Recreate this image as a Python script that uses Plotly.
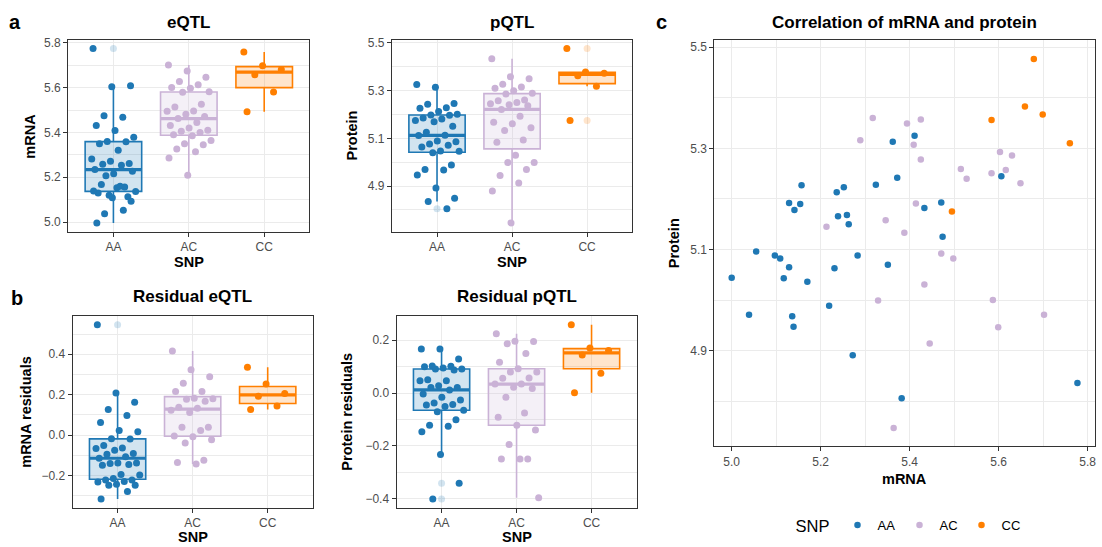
import numpy as np
import plotly.graph_objects as go

W, H = 1102, 547
FONT = "Liberation Sans"

GROUPS = ["AA", "AC", "CC"]
COLORS = {"AA": "#1F78B4", "AC": "#CAB2D6", "CC": "#FF7F00"}

# ---- eQTL: mRNA level by genotype ----
eqtl_aa = [5.775, 5.604, 5.609, 5.474, 5.468, 5.431, 5.409, 5.379, 5.360, 5.358,
           5.350, 5.321, 5.281, 5.271, 5.261, 5.258, 5.253, 5.234, 5.216, 5.227,
           5.207, 5.156, 5.130, 5.153, 5.136, 5.120, 5.113, 5.167, 5.160, 5.138,
           5.108, 5.093, 5.037, 5.052, 4.996]
eqtl_ac = [5.701, 5.674, 5.647, 5.627, 5.613, 5.601, 5.597, 5.582, 5.579, 5.526,
           5.514, 5.496, 5.495, 5.481, 5.471, 5.462, 5.444, 5.431, 5.420, 5.410,
           5.405, 5.400, 5.390, 5.385, 5.364, 5.350, 5.345, 5.326, 5.314, 5.286,
           5.209]
eqtl_cc = [5.759, 5.698, 5.681, 5.658, 5.581, 5.492]

# ---- pQTL: protein level by genotype ----
pqtl_aa = [5.325, 5.314, 5.246, 5.243, 5.228, 5.226, 5.212, 5.201, 5.198, 5.196,
           5.185, 5.181, 5.175, 5.169, 5.150, 5.125, 5.113, 5.112, 5.089, 5.086,
           5.076, 5.071, 5.064, 5.047, 5.046, 5.040, 4.988, 4.969, 4.967, 4.946,
           4.892, 4.849, 4.836, 4.805]
pqtl_ac = [5.433, 5.358, 5.349, 5.326, 5.315, 5.310, 5.299, 5.289, 5.285, 5.260,
           5.257, 5.250, 5.245, 5.240, 5.236, 5.221, 5.192, 5.167, 5.161, 5.144,
           5.133, 5.093, 5.083, 5.029, 4.999, 4.999, 4.969, 4.944, 4.913, 4.879,
           4.746]
pqtl_cc = [5.476, 5.378, 5.372, 5.362, 5.318, 5.175]

# ---- residual eQTL ----
resid_mrna_aa = [0.546, 0.208, 0.162, 0.126, 0.097, 0.062, 0.023, 0.016, -0.018, -0.020,
                 -0.052, -0.064, -0.067, -0.075, -0.092, -0.095, -0.108, -0.115, -0.138, -0.138,
                 -0.141, -0.146, -0.149, -0.195, -0.198, -0.215, -0.223, -0.223, -0.230, -0.233,
                 -0.243, -0.248, -0.249, -0.280, -0.316]
resid_mrna_ac = [0.416, 0.323, 0.289, 0.256, 0.216, 0.215, 0.182, 0.180, 0.177, 0.167,
                 0.138, 0.133, 0.123, 0.111, 0.039, 0.038, 0.023, -0.005, -0.008, -0.023,
                 -0.039, -0.125, -0.136, -0.143]
resid_mrna_cc = [0.336, 0.252, 0.205, 0.192, 0.144, 0.126]

# ---- residual pQTL ----
resid_prot_aa = [0.167, 0.167, 0.129, 0.103, 0.102, 0.100, 0.095, 0.091, 0.091, 0.087,
                 0.050, 0.047, 0.047, 0.028, 0.021, 0.021, 0.012, -0.004, -0.016, -0.026,
                 -0.038, -0.043, -0.045, -0.051, -0.065, -0.071, -0.101, -0.122, -0.126, -0.147,
                 -0.233, -0.342, -0.401]
resid_prot_ac = [0.225, 0.196, 0.195, 0.187, 0.150, 0.117, 0.092, 0.080, 0.080, 0.057,
                 0.056, 0.034, 0.034, 0.022, 0.017, -0.016, -0.076, -0.092, -0.122, -0.140,
                 -0.195, -0.250, -0.250, -0.250, -0.397]
resid_prot_cc = [0.259, 0.171, 0.161, 0.144, 0.075, 0.001]

# ---- mRNA vs protein, per sample ----
corr_mrna_aa = [5.411, 5.362, 5.372, 5.324, 5.157, 5.252, 5.236, 5.129, 5.154, 5.141,
                5.471, 5.433, 5.239, 5.259, 5.263, 5.474, 5.055, 5.097, 5.109, 5.283,
                5.351, 5.231, 5.129, 5.000, 5.117, 5.606, 5.170, 5.219, 5.039, 5.136,
                5.139, 5.272, 5.382, 5.777]
corr_prot_aa = [5.325, 5.313, 5.242, 5.228, 5.227, 5.223, 5.213, 5.192, 5.190, 5.178,
                5.193, 5.182, 5.166, 5.168, 5.150, 5.125, 5.096, 5.088, 5.082, 5.088,
                5.070, 5.063, 5.065, 5.044, 5.043, 5.245, 5.036, 4.989, 4.971, 4.968,
                4.947, 4.891, 4.806, 4.836]
corr_mrna_ac = [5.317, 5.394, 5.425, 5.289, 5.409, 5.425, 5.603, 5.630, 5.515, 5.616,
                5.528, 5.584, 5.649, 5.414, 5.213, 5.346, 5.388, 5.471, 5.498, 5.433,
                5.329, 5.587, 5.702, 5.599, 5.445, 5.364]
corr_prot_ac = [5.360, 5.349, 5.357, 5.316, 5.307, 5.278, 5.293, 5.286, 5.259, 5.257,
                5.240, 5.251, 5.231, 5.191, 5.145, 5.158, 5.133, 5.092, 5.082, 5.031,
                4.999, 5.000, 4.971, 4.946, 4.914, 4.747]
corr_mrna_cc = [5.679, 5.659, 5.699, 5.584, 5.760, 5.495]
corr_prot_cc = [5.477, 5.383, 5.367, 5.356, 5.310, 5.175]


def rgba(hex_color, alpha):
    h = hex_color.lstrip("#")
    r, g, b = int(h[0:2], 16), int(h[2:4], 16), int(h[4:6], 16)
    return f"rgba({r},{g},{b},{alpha})"


def px_x(p):
    return p / W


def px_y(p):
    return 1 - p / H


def expanded(values, frac=0.05):
    v = np.concatenate([np.asarray(x, float) for x in values])
    lo, hi = v.min(), v.max()
    pad = (hi - lo) * frac
    return [lo - pad, hi + pad]


def box_stats(values):
    v = np.sort(np.asarray(values, float))
    q1, med, q3 = np.percentile(v, [25, 50, 75])
    iqr = q3 - q1
    lo_lim, hi_lim = q1 - 1.5 * iqr, q3 + 1.5 * iqr
    inside = v[(v >= lo_lim) & (v <= hi_lim)]
    outliers = v[(v < lo_lim) | (v > hi_lim)]
    return q1, med, q3, inside.min(), inside.max(), outliers


def spread(n, half_width=0.3):
    # evenly scattered horizontal offsets (low-discrepancy sequence) for the strip points
    frac = (np.arange(n) * (np.sqrt(2) - 1) + 0.05) % 1.0
    return (frac - 0.5) * 2 * half_width


def axis_base(**kw):
    base = dict(
        showline=True, linecolor="#333333", linewidth=1.1, mirror=True,
        ticks="outside", ticklen=4, tickwidth=1, tickcolor="#333333",
        showgrid=True, gridcolor="#EBEBEB", gridwidth=1.1, zeroline=False,
        tickfont=dict(family=FONT, size=12, color="#4D4D4D"),
    )
    base.update(kw)
    return base


def text(label, cx, cy, size, bold=True, angle=0):
    return dict(
        text=f"<b>{label}</b>" if bold else label,
        x=px_x(cx), y=px_y(cy), xref="paper", yref="paper",
        xanchor="center", yanchor="middle", showarrow=False, textangle=angle,
        font=dict(family=FONT, size=size, color="black"),
    )


BOX_W = 0.75

box_panels = [
    dict(data=[eqtl_aa, eqtl_ac, eqtl_cc], box=(68.3, 310.0, 36.0, 229.3),
         tick0=5.0, title="eQTL", ytitle="mRNA", ytitle_x=30, xtitle_y=260, title_y=18.5),
    dict(data=[pqtl_aa, pqtl_ac, pqtl_cc], box=(392.7, 633.3, 36.0, 229.3),
         tick0=4.9, title="pQTL", ytitle="Protein", ytitle_x=352.5, xtitle_y=260, title_y=18.5),
    dict(data=[resid_mrna_aa, resid_mrna_ac, resid_mrna_cc], box=(72.7, 313.3, 314.3, 507.3),
         tick0=0.0, title="Residual eQTL", ytitle="mRNA residuals", ytitle_x=26, xtitle_y=537, title_y=295),
    dict(data=[resid_prot_aa, resid_prot_ac, resid_prot_cc], box=(397.3, 637.7, 314.3, 507.3),
         tick0=0.0, title="Residual pQTL", ytitle="Protein residuals", ytitle_x=347.5, xtitle_y=537, title_y=295),
]

fig = go.Figure()
layout = dict(
    width=W, height=H, margin=dict(l=0, r=0, t=0, b=0),
    paper_bgcolor="white", plot_bgcolor="white",
    boxmode="overlay", showlegend=True,
    font=dict(family=FONT, color="black"),
)
shapes, annotations = [], []

for k, panel in enumerate(box_panels, start=1):
    suffix = "" if k == 1 else str(k)
    xa, ya = f"x{suffix}", f"y{suffix}"
    x0, x1, y0, y1 = panel["box"]
    layout[f"xaxis{suffix}"] = axis_base(
        domain=[px_x(x0), px_x(x1)], anchor=ya, type="linear",
        range=[-0.6, 2.6], tickvals=[0, 1, 2], ticktext=GROUPS,
    )
    layout[f"yaxis{suffix}"] = axis_base(
        domain=[px_y(y1), px_y(y0)], anchor=xa,
        range=expanded(panel["data"]), tick0=panel["tick0"], dtick=0.2, tickformat=".1f",
        minor=dict(dtick=0.1, showgrid=True, gridcolor="#EBEBEB", gridwidth=0.6, ticks=""),
    )

    for i, (grp, vals) in enumerate(zip(GROUPS, panel["data"])):
        col = COLORS[grp]
        q1, med, q3, lo, hi, outs = box_stats(vals)
        # box and whiskers
        fig.add_trace(go.Box(
            x=[i], q1=[q1], median=[med], q3=[q3], lowerfence=[lo], upperfence=[hi],
            orientation="v", boxpoints=False, width=BOX_W, whiskerwidth=0,
            line=dict(color=col, width=1.6), fillcolor=rgba(col, 0.2),
            xaxis=xa, yaxis=ya, showlegend=False, hoverinfo="skip",
        ))
        # thicker median bar
        shapes.append(dict(
            type="line", xref=xa, yref=ya, layer="between",
            x0=i - BOX_W / 2, x1=i + BOX_W / 2, y0=med, y1=med,
            line=dict(color=col, width=3.2),
        ))
        # outliers flagged by the box statistics
        if len(outs):
            fig.add_trace(go.Scatter(
                x=[i] * len(outs), y=outs, mode="markers",
                marker=dict(color=rgba(col, 0.2), size=7),
                xaxis=xa, yaxis=ya, showlegend=False, hoverinfo="skip",
            ))
        # every sample, spread horizontally around its genotype
        fig.add_trace(go.Scatter(
            x=i + spread(len(vals)), y=vals, mode="markers",
            marker=dict(color=col, size=7),
            xaxis=xa, yaxis=ya, showlegend=False, name=grp,
        ))

    cx = (x0 + x1) / 2
    annotations.append(text(panel["title"], cx, panel["title_y"], 17))
    annotations.append(text(panel["ytitle"], panel["ytitle_x"], (y0 + y1) / 2, 14.5, angle=-90))
    annotations.append(text("SNP", cx, panel["xtitle_y"], 14.5))

# ---- correlation scatter ----
sx0, sx1, sy0, sy1 = 715.7, 1096.7, 36.7, 445.7
corr_x = [corr_mrna_aa, corr_mrna_ac, corr_mrna_cc]
corr_y = [corr_prot_aa, corr_prot_ac, corr_prot_cc]
layout["xaxis5"] = axis_base(
    domain=[px_x(sx0), px_x(sx1)], anchor="y5",
    range=expanded(corr_x), tick0=5.0, dtick=0.2, tickformat=".1f",
    minor=dict(dtick=0.1, showgrid=True, gridcolor="#EBEBEB", gridwidth=0.6, ticks=""),
)
layout["yaxis5"] = axis_base(
    domain=[px_y(sy1), px_y(sy0)], anchor="x5",
    range=expanded(corr_y), tick0=4.9, dtick=0.2, tickformat=".1f",
    minor=dict(dtick=0.1, showgrid=True, gridcolor="#EBEBEB", gridwidth=0.6, ticks=""),
)
for grp, xs, ys in zip(GROUPS, corr_x, corr_y):
    fig.add_trace(go.Scatter(
        x=xs, y=ys, mode="markers", name=grp,
        marker=dict(color=COLORS[grp], size=6.5),
        xaxis="x5", yaxis="y5", showlegend=True,
    ))

annotations.append(text("Correlation of mRNA and protein", (sx0 + sx1) / 2, 18.5, 17))
annotations.append(text("Protein", 676, (sy0 + sy1) / 2, 14.5, angle=-90))
annotations.append(text("mRNA", (sx0 + sx1) / 2, 478, 14.5))

# panel letters
annotations.append(text("a", 15, 18, 20))
annotations.append(text("b", 17, 296, 20))
annotations.append(text("c", 663, 18, 20))

layout["legend"] = dict(
    orientation="h", x=px_x(795), y=px_y(526), xanchor="left", yanchor="middle",
    title=dict(text="SNP", side="left", font=dict(family=FONT, size=16.5, color="black")),
    font=dict(family=FONT, size=13, color="black"),
    entrywidth=17, entrywidthmode="pixels", bgcolor="rgba(0,0,0,0)",
)
layout["shapes"] = shapes
layout["annotations"] = annotations

fig.update_layout(**layout)
fig.write_html("out.html")
